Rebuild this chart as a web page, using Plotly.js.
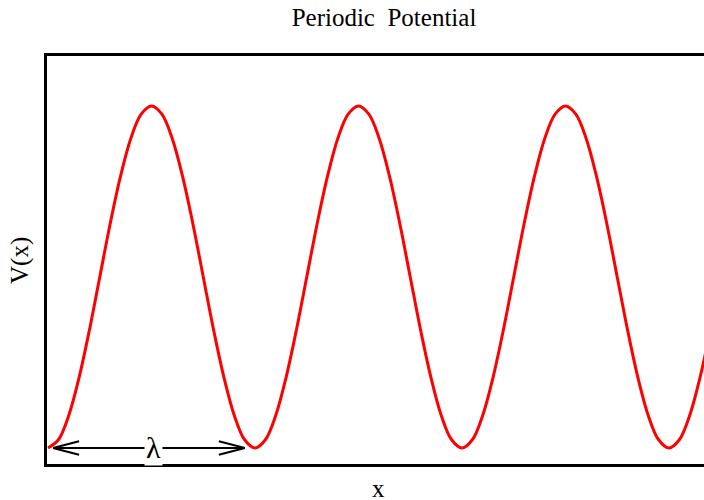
<!DOCTYPE html>
<html>
<head>
<meta charset="utf-8">
<script src="https://cdn.plot.ly/plotly-3.0.1.min.js"></script>
<style>
html,body{margin:0;padding:0;overflow:hidden;background:#fff;}
#chart{width:712px;height:500px;}
</style>
</head>
<body>
<div id="chart"></div>
<script>
// position in units of the period lambda
var xPos = [0.00,0.05,0.10,0.15,0.20,0.25,0.30,0.35,0.40,0.45,
            0.50,0.55,0.60,0.65,0.70,0.75,0.80,0.85,0.90,0.95,
            1.00,1.05,1.10,1.15,1.20,1.25,1.30,1.35,1.40,1.45,
            1.50,1.55,1.60,1.65,1.70,1.75,1.80,1.85,1.90,1.95,
            2.00,2.05,2.10,2.15,2.20,2.25,2.30,2.35,2.40,2.45,
            2.50,2.55,2.60,2.65,2.70,2.75,2.80,2.85,2.90,2.95,
            3.00,3.05,3.10,3.15,3.20];
// potential V(x), normalised
var vPot = [0,0.024,0.095,0.206,0.345,0.5,0.655,0.794,0.905,0.976,
            1,0.976,0.905,0.794,0.655,0.5,0.345,0.206,0.095,0.024,
            0,0.024,0.095,0.206,0.345,0.5,0.655,0.794,0.905,0.976,
            1,0.976,0.905,0.794,0.655,0.5,0.345,0.206,0.095,0.024,
            0,0.024,0.095,0.206,0.345,0.5,0.655,0.794,0.905,0.976,
            1,0.976,0.905,0.794,0.655,0.5,0.345,0.206,0.095,0.024,
            0,0.024,0.095,0.206,0.345];
var titleText = "Periodic&nbsp; Potential";
var xLabel = "x";
var yLabel = "V(x)";
var lambdaLabel = "λ";
// the lambda arrow spans one period (from, to)
var arrowSpan = [0.024, 0.951];

var serif = "Liberation Serif";
var trace = {
  x: xPos, y: vPot, type: "scatter", mode: "lines",
  line: {color: "#ff0000", width: 3, shape: "spline"},
  hoverinfo: "skip"
};
var hx = 0.126, hy = 0.0196;
var a0 = arrowSpan[0], a1 = arrowSpan[1];
var black = {color: "#000", width: 2};
var shapes = [
  {type:"line", xref:"x", yref:"y", x0:a0, y0:0, x1:a1, y1:0, line:black},
  {type:"line", xref:"x", yref:"y", x0:a0, y0:0, x1:a0+hx, y1:hy, line:black},
  {type:"line", xref:"x", yref:"y", x0:a0, y0:0, x1:a0+hx, y1:-hy, line:black},
  {type:"line", xref:"x", yref:"y", x0:a1, y0:0, x1:a1-hx, y1:hy, line:black},
  {type:"line", xref:"x", yref:"y", x0:a1, y0:0, x1:a1-hx, y1:-hy, line:black}
];
var layout = {
  width: 712, height: 500,
  margin: {l: 47, r: 0, t: 56, b: 36},
  paper_bgcolor: "#fff", plot_bgcolor: "#fff",
  showlegend: false,
  font: {family: serif, size: 25, color: "#000"},
  title: {text: titleText, font: {family: serif, size: 25, color: "#000"},
          xref: "container", x: 384/712, xanchor: "center",
          yref: "container", y: 1 - 17/500, yanchor: "middle"},
  xaxis: {range: [-0.005, 3.208], showline: true, linecolor: "#000", linewidth: 3,
          mirror: true, showgrid: false, zeroline: false, showticklabels: false,
          ticks: ""},
  yaxis: {range: [-0.0468, 1.146], showline: true, linecolor: "#000", linewidth: 3,
          mirror: true, showgrid: false, zeroline: false, showticklabels: false,
          ticks: ""},
  shapes: shapes,
  annotations: [
    {xref:"x", yref:"y", x:0.51, y:0, text: lambdaLabel, showarrow:false,
     font:{family: serif, size: 30, color:"#000"}, bgcolor:"#fff", borderpad: 1,
     xanchor:"center", yanchor:"middle"},
    {xref:"paper", yref:"paper", x:(378-47)/665, y:-(488-464)/408, text: xLabel,
     showarrow:false, font:{family: serif, size: 25, color:"#000"},
     xanchor:"center", yanchor:"middle"},
    {xref:"paper", yref:"paper", x:-(47-20)/665, y:0.5, text: yLabel, textangle:-90,
     showarrow:false, font:{family: serif, size: 25, color:"#000"},
     xanchor:"center", yanchor:"middle"}
  ]
};
Plotly.newPlot("chart", [trace], layout, {displayModeBar: false, staticPlot: true});
</script>
</body>
</html>
